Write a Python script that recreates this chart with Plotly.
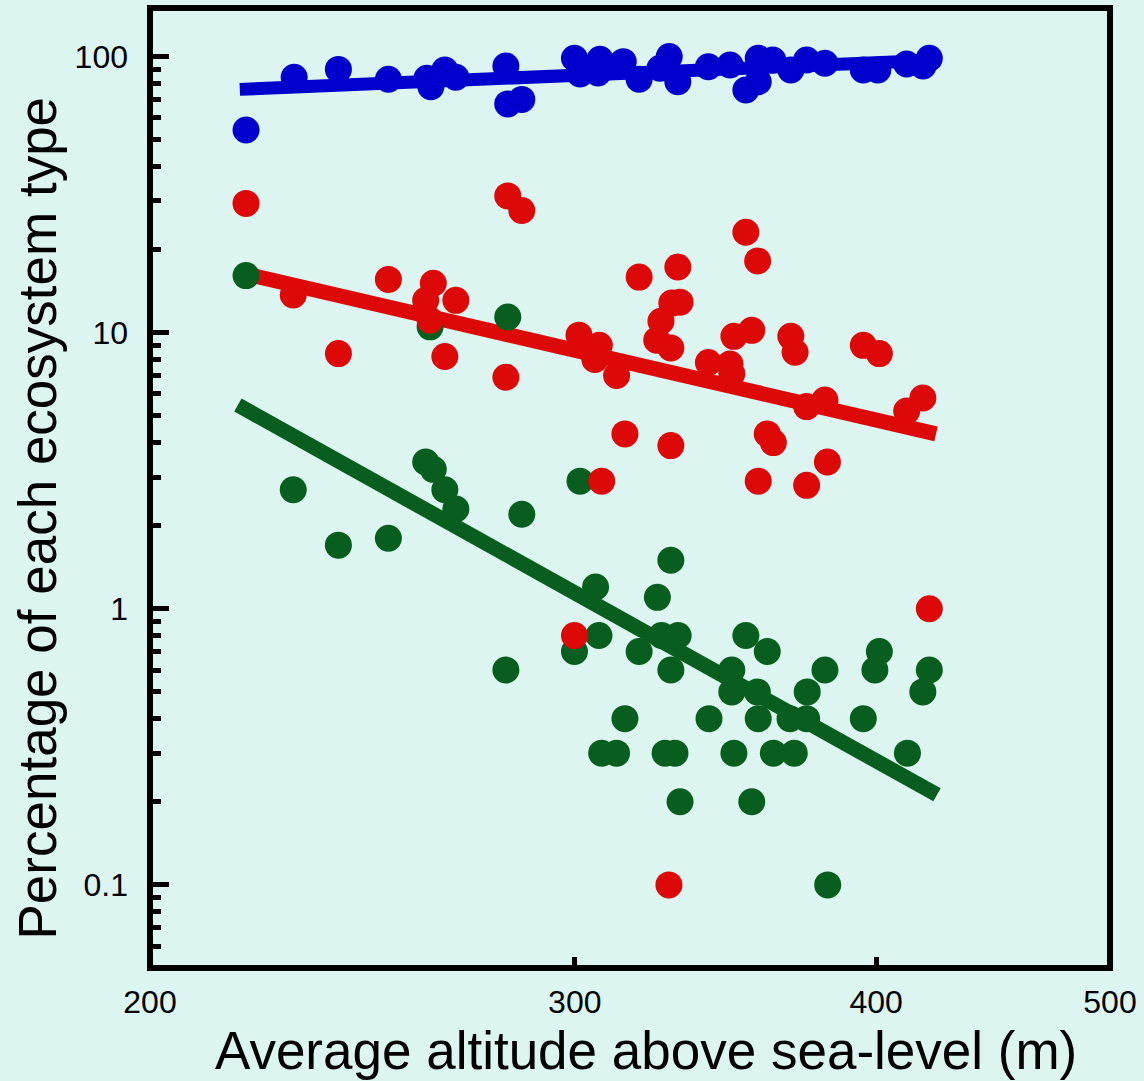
import math
import plotly.graph_objects as go

# ---------------- data ----------------
blue_x = [219.2, 229.5, 239.4, 251.1, 260.5, 261.5, 265.0, 267.8, 280.9, 281.4,
          285.2, 299.9, 301.5, 306.7, 307.3, 314.2, 319.0, 325.4, 328.3, 331.0,
          340.8, 347.9, 353.2, 357.4, 357.4, 362.4, 368.7, 374.3, 380.9, 395.1,
          400.6, 411.8, 418.3, 420.8]
blue_y = [54.2, 84.2, 89.9, 82.8, 83.5, 77.8, 89.4, 84.2, 92.5, 67.4,
          70.0, 98.6, 86.5, 87.2, 97.8, 95.9, 82.8, 90.7, 100.0, 81.1,
          91.9, 93.2, 75.7, 98.6, 81.1, 97.2, 89.4, 97.2, 94.6, 89.4,
          89.4, 94.0, 92.5, 98.6]

red_x = [219.2, 281.4, 285.2, 229.3, 251.1, 262.1, 260.2, 267.8, 261.3, 239.4,
         265.0, 280.9, 301.2, 353.2, 357.2, 319.0, 331.0, 329.1, 331.7, 325.7,
         324.4, 328.8, 307.1, 305.8, 312.2, 340.8, 347.9, 348.5, 349.2, 355.2,
         368.7, 370.2, 395.1, 401.2, 374.3, 380.9, 411.8, 418.2, 314.7, 328.8,
         360.5, 362.6, 381.8, 307.8, 357.4, 374.3, 299.9, 420.8, 328.2]
red_y = [29.4, 31.3, 27.7, 13.7, 15.6, 15.1, 13.1, 13.1, 11.1, 8.4,
         8.2, 6.9, 9.8, 23.1, 18.2, 15.9, 17.3, 12.8, 12.9, 11.0,
         9.4, 8.8, 9.0, 8.0, 7.0, 7.8, 7.7, 7.1, 9.7, 10.2,
         9.7, 8.5, 9.0, 8.4, 5.4, 5.7, 5.2, 5.8, 4.3, 3.9,
         4.3, 4.0, 3.4, 2.9, 2.9, 2.8, 0.8, 1.0, 0.1]

green_x = [219.2, 281.4, 261.3, 229.3, 239.4, 251.1, 260.2, 262.1, 265.0, 267.8,
           285.2, 301.5, 328.8, 306.0, 324.6, 307.0, 299.9, 325.9, 331.1, 319.0,
           328.8, 280.9, 353.2, 360.5, 348.5, 348.5, 357.1, 380.9, 374.5, 401.2,
           399.5, 420.8, 418.2, 314.7, 341.0, 357.4, 368.4, 374.3, 395.1, 307.8,
           312.2, 327.0, 330.1, 349.2, 362.6, 369.9, 412.1, 331.7, 355.2, 381.9]
green_y = [16.1, 11.4, 10.5, 2.7, 1.7, 1.8, 3.4, 3.2, 2.7, 2.3,
           2.2, 2.9, 1.5, 1.2, 1.1, 0.8, 0.7, 0.8, 0.8, 0.7,
           0.6, 0.6, 0.8, 0.7, 0.6, 0.5, 0.5, 0.6, 0.5, 0.7,
           0.6, 0.6, 0.5, 0.4, 0.4, 0.4, 0.4, 0.4, 0.4, 0.3,
           0.3, 0.3, 0.3, 0.3, 0.3, 0.3, 0.3, 0.2, 0.2, 0.1]

# fitted trend lines (end points)
blue_fit_x = [217.9, 425.1]
blue_fit_y = [76.1, 97.2]
red_fit_x = [219.6, 423.5]
red_fit_y = [16.25, 4.3]
green_fit_x = [217.5, 423.9]
green_fit_y = [5.47, 0.212]

x_tick_vals = [200, 300, 400, 500]
x_tick_text = ["200", "300", "400", "500"]
y_tick_vals = [0.1, 1, 10, 100]
y_tick_text = ["0.1", "1", "10", "100"]
y_minor_vals = [0.06, 0.07, 0.08, 0.09,
                0.2, 0.3, 0.4, 0.5, 0.6, 0.7, 0.8, 0.9,
                2, 3, 4, 5, 6, 7, 8, 9,
                20, 30, 40, 50, 60, 70, 80, 90]
x_range = [200, 500]
y_range = [0.05, 150]

x_title = "Average altitude above sea-level (m)"
y_title = "Percentage of each ecosystem type"

# ---------------- styles ----------------
BLUE = "#0000CC"
RED = "#DD0808"
GREEN = "#085E1E"
BG = "#DCF5F0"
FONT = "Liberation Sans, Arial, sans-serif"

fig = go.Figure()

for fx, fy, col, w in [(blue_fit_x, blue_fit_y, BLUE, 13),
                       (red_fit_x, red_fit_y, RED, 15),
                       (green_fit_x, green_fit_y, GREEN, 15)]:
    fig.add_trace(go.Scatter(x=fx, y=fy, mode="lines",
                             line=dict(color=col, width=w),
                             showlegend=False, hoverinfo="skip"))

for sx, sy, col in [(green_x, green_y, GREEN),
                    (red_x, red_y, RED),
                    (blue_x, blue_y, BLUE)]:
    fig.add_trace(go.Scatter(x=sx, y=sy, mode="markers",
                             marker=dict(color=col, size=27, line=dict(width=0)),
                             showlegend=False))

fig.update_layout(
    width=1144, height=1081,
    margin=dict(l=150, r=34, t=8, b=113, pad=0),
    paper_bgcolor=BG, plot_bgcolor=BG,
    font=dict(family=FONT, color="black"),
    showlegend=False,
    xaxis=dict(type="log", range=[math.log10(x_range[0]), math.log10(x_range[1])],
               tickmode="array", tickvals=x_tick_vals, ticktext=x_tick_text,
               ticks="inside", ticklen=11, tickwidth=5, tickcolor="black",
               tickfont=dict(size=32, family=FONT, color="black"),
               ticklabelstandoff=12,
               showgrid=False, zeroline=False, showline=False),
    yaxis=dict(type="log", range=[math.log10(y_range[0]), math.log10(y_range[1])],
               tickmode="array", tickvals=y_tick_vals, ticktext=y_tick_text,
               ticks="inside", ticklen=19, tickwidth=5, tickcolor="black",
               tickfont=dict(size=32, family=FONT, color="black"),
               ticklabelstandoff=21,
               minor=dict(tickmode="array", tickvals=y_minor_vals, ticks="inside",
                          ticklen=11, tickwidth=5, tickcolor="black", showgrid=False),
               showgrid=False, zeroline=False, showline=False),
    shapes=[dict(type="rect", xref="paper", yref="paper", x0=0, x1=1, y0=0, y1=1,
                 line=dict(color="black", width=6), fillcolor="rgba(0,0,0,0)",
                 layer="above")],
    annotations=[
        dict(text=x_title, xref="paper", yref="paper", x=(645.5 - 150) / 960,
             y=-(1050 - 968) / 960, xanchor="center", yanchor="middle",
             showarrow=False, font=dict(size=53, family=FONT, color="black")),
        dict(text=y_title, xref="paper", yref="paper", x=(37 - 150) / 960,
             y=(968 - 518.5) / 960, xanchor="center", yanchor="middle",
             textangle=-90, showarrow=False,
             font=dict(size=53, family=FONT, color="black")),
    ],
)

fig.write_html("out.html")
